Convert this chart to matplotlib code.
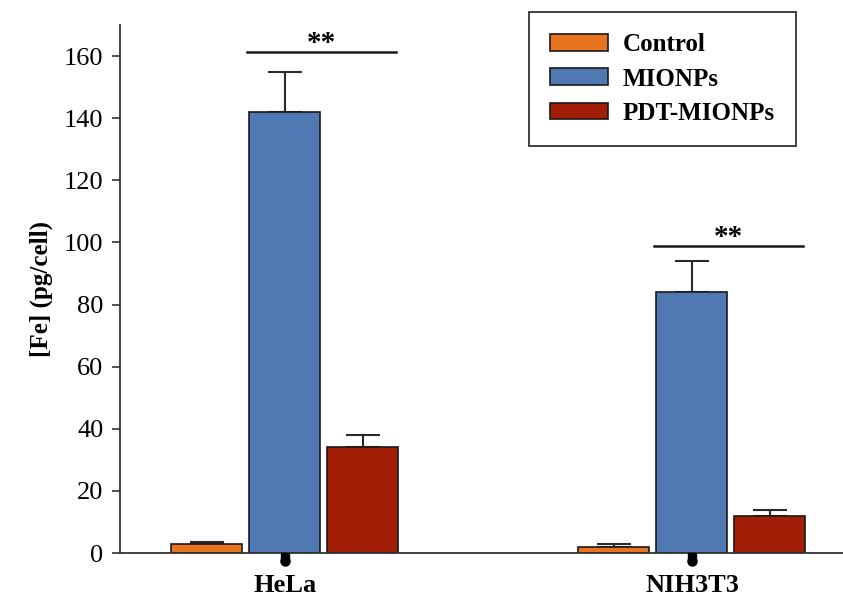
import matplotlib
matplotlib.use("Agg")
import matplotlib.pyplot as plt
import numpy as np
from matplotlib.patches import Patch

plt.rcParams['font.family'] = ['Liberation Serif', 'DejaVu Serif']

groups = ["HeLa", "NIH3T3"]
series = ["Control", "MIONPs", "PDT-MIONPs"]
values = {
    "Control": [2.8, 2.0],
    "MIONPs": [142, 84],
    "PDT-MIONPs": [34, 12],
}
errors = {
    "Control": [0.8, 0.8],
    "MIONPs": [13, 10],
    "PDT-MIONPs": [4, 2],
}
colors = {"Control": "#E8741F", "MIONPs": "#5078B3", "PDT-MIONPs": "#A21E06"}
yticks = [0, 20, 40, 60, 80, 100, 120, 140, 160]
sig_heights = [161.3, 98.8]

fig = plt.figure(figsize=(8.43, 6.01), dpi=100)
ax = fig.add_axes([120/843, 1-553/601, 1-120/843, (553-25)/601])

x = np.arange(len(groups))
w = 0.1745
step = 0.1916
for i, s in enumerate(series):
    ax.bar(x + (i-1)*step, values[s], width=w, color=colors[s], edgecolor="#1a1a1a",
           linewidth=1.2, zorder=2)
    ax.errorbar(x + (i-1)*step, values[s], yerr=[np.zeros(len(groups)), errors[s]],
                fmt="none", ecolor="#2a2a2a", elinewidth=1.5, capsize=12, capthick=1.5, zorder=1)

# significance
for gi, h in enumerate(sig_heights):
    xa = x[gi] - 0.094
    xb = x[gi] + step + w/2 - 0.005
    ax.plot([xa, xb], [h, h], color="#1a1a1a", lw=1.8, clip_on=False)
    ax.text((xa + xb)/2, h - 1.5, "**", ha="center", va="bottom", fontsize=21, fontweight="bold")

# markers below the MIONPs bars
ax.plot(x, [-2.6]*len(x), linestyle="none", marker="o", markersize=6.5, color="black", clip_on=False, zorder=5)
ax.plot(x, [-1.2]*len(x), linestyle="none", marker="s", markersize=5.5, color="black", clip_on=False, zorder=5)

ax.set_xlim(-0.405, 1.371)
ax.set_ylim(0, 170)
ax.set_yticks(yticks)
ax.set_yticklabels([str(t) for t in yticks], fontsize=19)
ax.set_xticks(x)
ax.set_xticklabels(groups, fontsize=19, fontweight="bold")
ax.tick_params(axis="y", direction="out", length=6, width=1.2, color="#333333", pad=6)
ax.tick_params(axis="x", direction="out", length=0, pad=15)
for sp in ["top", "right"]:
    ax.spines[sp].set_visible(False)
ax.spines["left"].set_color("#333333")
ax.spines["bottom"].set_color("#333333")
ax.spines["left"].set_linewidth(1.3)
ax.spines["bottom"].set_linewidth(1.3)
ax.set_ylabel("[Fe] (pg/cell)", fontsize=18, fontweight="bold", labelpad=8)

handles = [Patch(facecolor=colors[s], edgecolor="#1a1a1a", linewidth=1.2) for s in series]
leg = fig.legend(handles, series, loc="upper right", bbox_to_anchor=(796/843, 1-12/601),
                 prop={"size": 18, "weight": "bold"}, handlelength=2.3, handleheight=0.65,
                 borderaxespad=0, fancybox=False, framealpha=1, borderpad=0.85,
                 labelspacing=0.45, handletextpad=0.6)
leg.get_frame().set_edgecolor("#333333")
leg.get_frame().set_linewidth(1.3)

fig.savefig("out.png", dpi=100)
